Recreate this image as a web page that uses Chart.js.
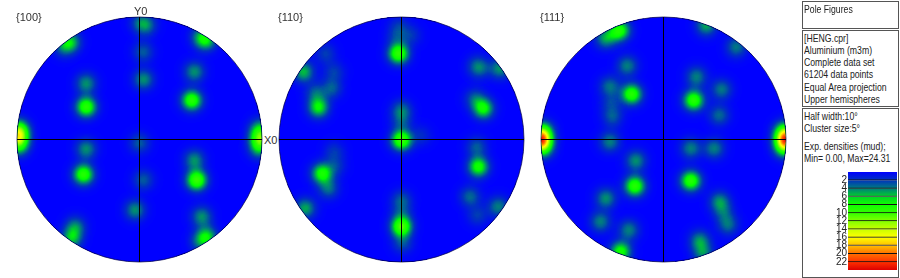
<!DOCTYPE html>
<html>
<head>
<meta charset="utf-8">
<title>Pole Figures</title>
<script src="https://cdn.jsdelivr.net/npm/chart.js@4"></script>
<style>
  html, body { margin: 0; padding: 0; background: #fff; }
  body { width: 900px; height: 278px; position: relative; overflow: hidden;
         font-family: "Liberation Sans", Arial, sans-serif; color: #222; }
  canvas { position: absolute; }
  .lbl { position: absolute; font-size: 11px; line-height: 12px; white-space: nowrap; color: #333; }
  .box { position: absolute; left: 802px; width: 95px; border: 1px solid #555; box-sizing: content-box; }
  .txt { position: absolute; left: 804px; font-size: 10.6px; line-height: 12px; white-space: nowrap;
         transform: scaleX(0.82); transform-origin: left center; }
</style>
</head>
<body>
<canvas id="fig100" width="247" height="247" style="left:16px;top:16px"></canvas>
<canvas id="fig110" width="247" height="247" style="left:278px;top:16px"></canvas>
<canvas id="fig111" width="247" height="247" style="left:540px;top:16px"></canvas>

<div class="lbl" style="left:134px;top:5px">Y0</div>
<div class="lbl" style="left:264px;top:134px">X0</div>
<div class="lbl" style="left:16px;top:11px">{100}</div>
<div class="lbl" style="left:278px;top:11px">{110}</div>
<div class="lbl" style="left:540px;top:11px">{111}</div>

<div class="box" style="top:1px;height:26px"></div>
<div class="box" style="top:30px;height:75px"></div>
<div class="box" style="top:108px;height:168px"></div>
<div id="panel"></div>
<canvas id="scale" width="94" height="112" style="left:803px;top:165px"></canvas>

<script>
// {100} poles: x, y on the unit circle and density (mud), densities add up where poles overlap
const poles100X = [0, 0.03, 0.03, 0.01, 0.06, -0.035, -0.435, 0.448, 0.033, -0.435, 0.448, 0.508, -0.524, -0.62, 0.495, 0.495, -0.565, 0.543, -0.552, 0.549, -0.435, 0.427, -0.457, 0.467, 0.985, 0.985, 0.975, 0.98, -0.99, -0.985, -0.985];
const poles100Y = [-0.03, -0.33, 0.715, 0.95, 0.93, -0.576, 0.457, 0.552, 0.489, -0.079, -0.168, -0.63, -0.712, 0.755, 0.84, -0.834, 0.796, 0.81, -0.807, -0.793, 0.266, 0.32, -0.285, -0.332, 0.04, -0.02, -0.08, 0.1, 0.03, 0.09, -0.05];
const poles100D = [3, 3, 3, 3, 3, 4.4, 4.4, 4.4, 4.4, 4.4, 4.4, 4.4, 4, 3, 3, 3, 5.5, 6, 5.5, 6, 9, 9, 9, 10, 6, 6, 3.5, 3, 11, 6, 6.5];

// {110} poles
const poles110X = [-0.55, -0.62, 0.62, -0.55, 0.62, 0.16, -0.02, 0.08, -0.04, 0, 0, 0, 0, -0.568, 0.614, -0.54, -0.595, -0.7, 0.56, 0.64, 0.01, 0.6, 0.79, 0.804, -0.785, -0.8, -0.677, 0.668, -0.649, 0.628, -0.024, 0, 0];
const poles110Y = [0.55, 0.7, 0.6, -0.1, -0.62, 0.03, 0.92, 0.85, 0.83, 0.239, 0.15, -0.495, -0.6, 0.416, -0.06, -0.22, -0.399, 0.38, -0.467, 0.58, -0.85, 0.334, -0.549, 0.579, -0.5625, 0.552, 0.261, 0.253, -0.277, -0.223, 0.701, -0.005, -0.712];
const poles110D = [2.2, 2.2, 2.3, 2, 2.2, 1.6, 2, 1.8, 1.8, 3.6, 2.4, 3, 2, 3, 3, 2, 3.5, 3, 3.4, 2.2, 2.6, 3, 4, 4.5, 5, 5.5, 7, 7.5, 8, 8, 9.5, 10, 10.5];

// {111} poles
const poles111X = [-0.43, 0.49, -0.43, -0.416, 0.454, 0.527, -0.4375, 0.473, 0.595, -0.478, -0.296, 0.269, -0.4375, 0.223, 0.413, -0.226, -0.514, -0.283, 0.323, -0.47, 0.459, 0.296, 0.35, -0.356, -0.35, -0.26, 0.247, -0.234, 0.223, -0.985, 0.985, -0.985, 0.985, -1, 1];
const poles111Y = [0.85, -0.6, 0.3, 0.185, 0.198, -0.698, 0.435, 0.408, 0.755, 0.823, 0.6, 0.511, -0.019, -0.073, -0.073, -0.174, -0.671, -0.739, -0.93, -0.481, -0.508, -0.826, 0.932, 0.891, -0.916, 0.37, 0.32, -0.38, -0.337, 0.07, 0.07, -0.07, -0.07, 0, 0];
const poles111D = [1.8, 2.5, 2, 3, 3.4, 3.4, 3.6, 3.8, 3.8, 3.8, 4, 4, 4, 4, 4, 4.4, 4, 4, 4, 4.4, 4.4, 4.4, 5, 8, 8, 9, 9, 9, 9, 6.5, 6.5, 6.5, 6.5, 17, 17];

// colour scale: density levels and their colours
const colorLevels = [0, 2, 4, 6, 7, 10, 12, 14, 16, 18, 20, 22, 24];
const colorStops = [[0,0,255],[0,50,190],[0,125,125],[0,210,40],[0,255,0],[50,255,0],[130,255,0],[200,255,0],[255,255,0],[255,190,0],[255,110,0],[255,50,0],[220,0,0]];
const bandEdges = [0, 2, 4, 6, 8, 10, 12, 14, 16, 18, 20, 22, 24];

const panelLines = [
  ["Pole Figures", 3],
  ["[HENG.cpr]", 32], ["Aluminium (m3m)", 44], ["Complete data set", 56], ["61204 data points", 68],
  ["Equal Area projection", 81], ["Upper hemispheres", 93],
  ["Half width:10°", 110], ["Cluster size:5°", 122], ["Exp. densities (mud);", 140], ["Min= 0.00, Max=24.31", 152]
];

const SIGMA = 7; // px, blob size on screen
const GREY_PER_MUD = 10; // sprites are drawn as grey density, then coloured

function colorAt(d) {
  if (d >= 24) return colorStops[12];
  let i = 0;
  while (colorLevels[i + 1] < d) i++;
  const t = (d - colorLevels[i]) / (colorLevels[i + 1] - colorLevels[i]);
  return colorStops[i].map((c, k) => Math.round(c + (colorStops[i + 1][k] - c) * t));
}

const greyToColor = [];
for (let v = 0; v < 256; v++) greyToColor.push(colorAt(v / GREY_PER_MUD));

// one gaussian sprite per density value, used as the point style
const sprites = {};
function blob(peak) {
  if (sprites[peak]) return sprites[peak];
  const size = Math.ceil(SIGMA * 7) | 1;
  const cv = document.createElement('canvas');
  cv.width = cv.height = size;
  const c = cv.getContext('2d');
  const img = c.createImageData(size, size);
  for (let y = 0; y < size; y++) {
    for (let x = 0; x < size; x++) {
      const dx = x - (size - 1) / 2, dy = y - (size - 1) / 2;
      const v = GREY_PER_MUD * peak * Math.exp(-(dx * dx + dy * dy) / (2 * SIGMA * SIGMA));
      const o = (y * size + x) * 4;
      img.data[o] = img.data[o + 1] = img.data[o + 2] = v;
      img.data[o + 3] = 255;
    }
  }
  c.putImageData(img, 0, 0);
  sprites[peak] = cv;
  return cv;
}

const POLES = 2; // dataset index of the density points

// poles are summed as grey inside a clipped disc, then turned into the colour map
const discPlugin = {
  id: 'disc',
  beforeDatasetDraw(chart, args) {
    if (args.index !== POLES) return;
    const ctx = chart.ctx, xs = chart.scales.x, ys = chart.scales.y;
    const cx = xs.getPixelForValue(0), cy = ys.getPixelForValue(0);
    ctx.save();
    ctx.beginPath();
    ctx.arc(cx, cy, xs.getPixelForValue(1) - cx, 0, Math.PI * 2);
    ctx.fillStyle = '#000';
    ctx.fill();
    ctx.clip();
    ctx.globalCompositeOperation = 'lighter';
  },
  afterDatasetDraw(chart, args) {
    if (args.index !== POLES) return;
    const ctx = chart.ctx, xs = chart.scales.x, ys = chart.scales.y;
    ctx.restore();
    const w = chart.canvas.width, h = chart.canvas.height;
    const img = ctx.getImageData(0, 0, w, h);
    for (let o = 0; o < img.data.length; o += 4) {
      if (!img.data[o + 3]) continue;
      const rgb = greyToColor[img.data[o]];
      img.data[o] = rgb[0]; img.data[o + 1] = rgb[1]; img.data[o + 2] = rgb[2];
    }
    ctx.putImageData(img, 0, 0);
    const cx = xs.getPixelForValue(0), cy = ys.getPixelForValue(0);
    ctx.beginPath();
    ctx.arc(cx, cy, xs.getPixelForValue(1) - cx, 0, Math.PI * 2);
    ctx.strokeStyle = 'rgba(0,0,60,0.7)';
    ctx.lineWidth = 1;
    ctx.stroke();
  }
};

function poleFigure(id, xs, ys, ds) {
  const pts = xs.map((x, i) => ({ x: x, y: ys[i], d: ds[i] }));
  const axisLine = (data) => ({
    data: data, showLine: true, borderColor: '#000', borderWidth: 1, pointRadius: 0
  });
  new Chart(document.getElementById(id), {
    type: 'scatter',
    data: {
      datasets: [
        axisLine([{ x: -1, y: 0 }, { x: 1, y: 0 }]),
        axisLine([{ x: 0, y: -1 }, { x: 0, y: 1 }]),
        {
          data: pts,
          clip: false,
          pointStyle: (c) => c.raw ? blob(c.raw.d) : 'circle',
          pointRadius: 20
        }
      ]
    },
    options: {
      responsive: false,
      animation: false,
      events: [],
      layout: { padding: 1, autoPadding: false },
      plugins: { legend: { display: false }, tooltip: { enabled: false } },
      scales: {
        x: { type: 'linear', min: -1, max: 1, display: false },
        y: { type: 'linear', min: -1, max: 1, display: false }
      }
    },
    plugins: [discPlugin]
  });
}

poleFigure('fig100', poles100X, poles100Y, poles100D);
poleFigure('fig110', poles110X, poles110Y, poles110D);
poleFigure('fig111', poles111X, poles111Y, poles111D);

// text panel
const panel = document.getElementById('panel');
panelLines.forEach(function(l) {
  const el = document.createElement('div');
  el.className = 'txt';
  el.style.top = l[1] + 'px';
  el.textContent = l[0];
  panel.appendChild(el);
});

// colour bar
new Chart(document.getElementById('scale'), {
  type: 'bar',
  data: {
    labels: ['mud'],
    datasets: bandEdges.slice(0, -1).map((lo, i) => ({
      data: [[lo, bandEdges[i + 1]]],
      barPercentage: 1,
      categoryPercentage: 1,
      grouped: false,
      borderSkipped: false,
      borderColor: '#111',
      borderWidth: i < bandEdges.length - 2 ? { top: 0, left: 0, right: 0, bottom: 1 } : 0,
      backgroundColor: function(c) {
        const sc = c.chart.scales.y;
        const y0 = sc ? sc.getPixelForValue(lo) : NaN;
        const y1 = sc ? sc.getPixelForValue(bandEdges[i + 1]) : NaN;
        if (!isFinite(y0) || !isFinite(y1)) return '#00f';
        const g = c.chart.ctx.createLinearGradient(0, y0, 0, y1);
        g.addColorStop(0, 'rgb(' + colorAt(lo).join(',') + ')');
        g.addColorStop(1, 'rgb(' + colorAt(bandEdges[i + 1]).join(',') + ')');
        return g;
      }
    }))
  },
  options: {
    responsive: false,
    animation: false,
    events: [],
    layout: { padding: { top: 5, bottom: 5, left: 0, right: 0 } },
    plugins: { legend: { display: false }, tooltip: { enabled: false } },
    scales: {
      x: { display: false },
      y: {
        min: 0, max: 24, reverse: true,
        afterFit: (s) => { s.width = 45; },
        border: { display: false },
        grid: { display: false, drawTicks: false },
        ticks: {
          stepSize: 2, padding: 1, autoSkip: false, color: '#222',
          font: { family: '"Liberation Sans", Arial, sans-serif', size: 10 },
          callback: (v) => (v === 0 || v === 24) ? '' : v
        }
      }
    }
  }
});
</script>
</body>
</html>
